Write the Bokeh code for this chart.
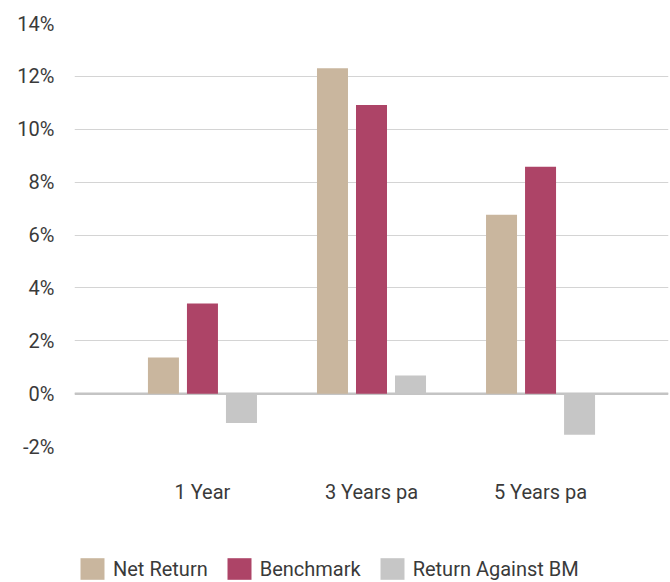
from bokeh.plotting import figure
from bokeh.layouts import column
from bokeh.models import (ColumnDataSource, FactorRange, Range1d, FixedTicker,
                          PrintfTickFormatter, Span, Legend, LegendItem)
from bokeh.transform import dodge
from bokeh.embed import file_html
from bokeh.resources import INLINE

categories = ["1 Year", "3 Years pa", "5 Years pa"]
net_return = [1.37, 12.31, 6.77]
benchmark = [3.41, 10.92, 8.58]
against_bm = [-1.11, 0.69, -1.56]
y_ticks = [-2, 0, 2, 4, 6, 8, 10, 12, 14]
series_names = ["Net Return", "Benchmark", "Return Against BM"]
colors = ["#C9B69E", "#AD4467", "#C6C6C6"]
fields = ["net", "bm", "rab"]

src = ColumnDataSource(dict(cat=categories, net=net_return, bm=benchmark, rab=against_bm))

FONT = "Roboto"
TXT = "#3a3a3a"

x_range = FactorRange(*categories, range_padding=0.1713)
p = figure(width=670, height=520, x_range=x_range, y_range=Range1d(-2, 14),
           output_backend="svg", toolbar_location=None,
           min_border_left=74, min_border_right=2, min_border_top=23, min_border_bottom=74)
p.outline_line_color = None
p.xgrid.grid_line_color = None
p.ygrid.grid_line_color = "#d4d4d4"
p.ygrid.grid_line_width = 1

p.yaxis.ticker = FixedTicker(ticks=y_ticks)
p.yaxis.formatter = PrintfTickFormatter(format="%d%%")
for ax in (p.xaxis, p.yaxis):
    ax.axis_line_color = None
    ax.major_tick_line_color = None
    ax.minor_tick_line_color = None
    ax.major_tick_out = 0
    ax.major_tick_in = 0
    ax.minor_tick_out = 0
    ax.major_label_text_font = FONT
    ax.major_label_text_font_size = "20px"
    ax.major_label_text_color = TXT
p.yaxis.major_label_standoff = 20
p.xaxis.major_label_standoff = 33

zero = Span(location=0, dimension="width", line_color="#c4c4c4", line_width=2.5, level="underlay")
p.add_layout(zero)

W = 0.1834
OFF = 0.2308
offsets = [-OFF, 0, OFF]
for f, off, col in zip(fields, offsets, colors):
    p.vbar(x=dodge("cat", off, range=x_range), top=f, bottom=0, width=W, source=src,
           fill_color=col, line_color=None)

# legend strip below the chart (its bars lie outside its visible y range)
p2 = figure(width=670, height=62, x_range=x_range, y_range=Range1d(100, 101),
            output_backend="svg", toolbar_location=None, min_border=0,
            x_axis_location=None, y_axis_location=None)
p2.outline_line_color = None
p2.grid.visible = False
items = []
for name, f, off, col in zip(series_names, fields, offsets, colors):
    r = p2.vbar(x=dodge("cat", off, range=x_range), top=f, bottom=0, width=W, source=src,
                fill_color=col, line_color=None)
    items.append(LegendItem(label=name, renderers=[r], index=0))

legend = Legend(items=items, orientation="horizontal", location=(3, 0),
                glyph_width=30, glyph_height=27, label_standoff=6, spacing=16,
                padding=0, margin=0, border_line_color=None, background_fill_alpha=0,
                label_text_font=FONT, label_text_font_size="20px", label_text_color=TXT)
p2.add_layout(legend)

layout = column(p, p2, spacing=0)
open("out.html", "w").write(file_html(layout, INLINE))
